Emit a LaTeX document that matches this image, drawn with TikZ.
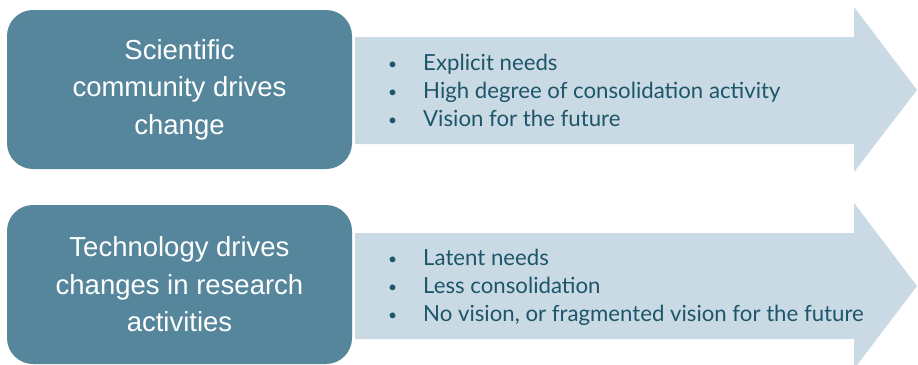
\documentclass[tikz,border=0pt]{standalone}
\usepackage{fontspec}
\setmainfont{Liberation Sans}
\newfontfamily\bulletfont{Lato}
\definecolor{boxteal}{HTML}{55869B}
\definecolor{arrowblue}{HTML}{C9DAE4}
\definecolor{textteal}{HTML}{1D5569}
\tikzset{
  drivebox/.style={fill=boxteal, draw=none, rounded corners=26pt, inner sep=0pt,
    minimum width=345pt, minimum height=159pt, text=white, align=center,
    font=\fontsize{27.5}{37.5}\selectfont},
  bigarrow/.style={fill=arrowblue, draw=none},
  itemline/.style={anchor=base west, inner sep=0pt, text=textteal,
    font=\bulletfont\fontsize{22.2}{28}\selectfont},
}
\newcommand{\itm}[1]{\makebox[35pt][l]{\raisebox{1pt}{\scalebox{0.7}{\textbullet}}}#1}
\begin{document}
\begin{tikzpicture}[x=1pt,y=-1pt]
\useasboundingbox (0,0) rectangle (918,364);
\clip (0,0) rectangle (918,364);
% arrows
\draw[bigarrow] (355,37) -- (854,37) -- (854,7) -- (917,90) -- (854,172) -- (854,144) -- (355,144) -- cycle;
\draw[bigarrow] (355,233) -- (854,233) -- (854,203) -- (917,286) -- (854,369) -- (854,339) -- (355,339) -- cycle;
% boxes
\node[drivebox] (b1) at (179.5,89.5) {Scientific\\community drives\\change};
\node[drivebox] (b2) at (179.5,284.5) {Technology drives\\changes in research\\activities};
% items
\node[itemline] (t1) at (388,70) {\itm{Explicit needs}};
\node[itemline] (t2) at (388,98) {\itm{High degree of consolidation activity}};
\node[itemline] (t3) at (388,126) {\itm{Vision for the future}};
\node[itemline] (u1) at (388,265) {\itm{Latent needs}};
\node[itemline] (u2) at (388,293) {\itm{Less consolidation}};
\node[itemline] (u3) at (388,321) {\itm{No vision, or fragmented vision for the future}};
\end{tikzpicture}
\end{document}
